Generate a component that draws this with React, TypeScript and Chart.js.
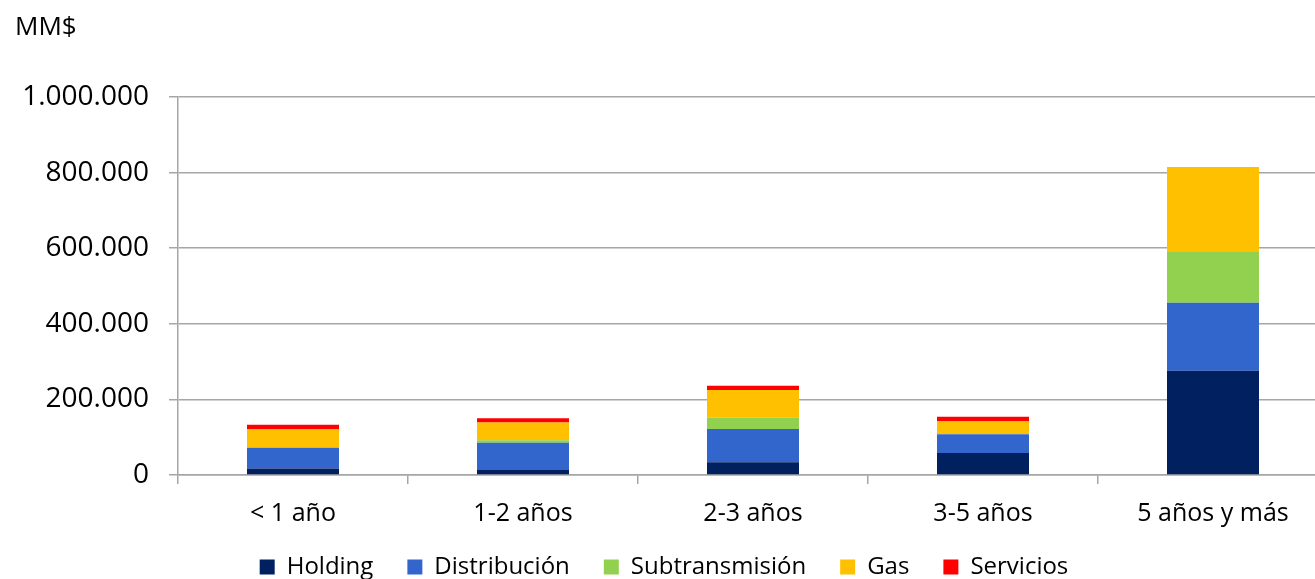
import React, { useEffect, useRef } from "react";
import { Chart, registerables } from "chart.js";

Chart.register(...registerables);

const categories = ["< 1 año", "1-2 años", "2-3 años", "3-5 años", "5 años y más"];
const holding = [17000, 13000, 34000, 58000, 276000];
const distribucion = [55000, 72000, 88000, 50000, 180000];
const subtransmision = [0, 7000, 30000, 0, 134000];
const gas = [50000, 47000, 73000, 35000, 225000];
const servicios = [11000, 11000, 11000, 11000, 0];
const yMax = 1000000;
const yStep = 200000;
const unitLabel = "MM$";

const fmt = (v: number) => String(Math.round(v)).replace(/\B(?=(\d{3})+(?!\d))/g, ".");

export default function App() {
  const ref = useRef<HTMLCanvasElement | null>(null);
  useEffect(() => {
    document.body.style.margin = "0";
    document.body.style.overflow = "hidden";
    const ctx = ref.current!.getContext("2d")!;
    const font = "'Open Sans', sans-serif";
    const gridColor = "#a6a6a6";
    const chart = new Chart(ctx, {
      type: "bar",
      data: {
        labels: categories,
        datasets: [
          { label: "Holding", data: holding, backgroundColor: "#002060" },
          { label: "Distribución", data: distribucion, backgroundColor: "#3366CC" },
          { label: "Subtransmisión", data: subtransmision, backgroundColor: "#92D050" },
          { label: "Gas", data: gas, backgroundColor: "#FFC000" },
          { label: "Servicios", data: servicios, backgroundColor: "#FF0000" },
        ],
      },
      options: {
        animation: false,
        responsive: false,
        maintainAspectRatio: false,
        datasets: { bar: { categoryPercentage: 0.4, barPercentage: 1.0 } },
        layout: { padding: { left: 0, right: 48, top: 97, bottom: 0 } },
        plugins: {
          tooltip: { enabled: false },
          title: { display: false },
          legend: {
            position: "bottom",
            labels: {
              color: "#000",
              font: { family: font, size: 24 },
              boxWidth: 15,
              boxHeight: 15,
              padding: 34,
            },
          },
        },
        scales: {
          x: {
            stacked: true,
            grid: {
              display: true,
              drawOnChartArea: false,
              drawTicks: true,
              tickLength: 9,
              color: gridColor,
              lineWidth: 1.5,
              offset: true,
            },
            border: { display: true, color: gridColor, width: 1.5 },
            ticks: { color: "#000", font: { family: font, size: 25 }, padding: 15 },
            afterFit: (s: any) => {
              s.height = 46;
              // let the tick labels' descenders run past the scale box
              s._computeLabelArea = () => undefined;
            },
          },
          y: {
            stacked: true,
            min: 0,
            max: yMax,
            grid: { color: gridColor, lineWidth: 1.5, tickLength: 9 },
            border: { display: true, color: gridColor, width: 1.5 },
            ticks: {
              stepSize: yStep,
              color: "#000",
              font: { family: font, size: 28 },
              padding: 20,
              callback: (v: any) => fmt(Number(v)),
            },
            afterFit: (s: any) => {
              s.width = 178;
            },
          },
        },
      },
    });
    return () => chart.destroy();
  }, []);
  return (
    <div style={{ position: "absolute", left: 0, top: 0, width: 1376, height: 589 }}>
      <div
        style={{
          position: "absolute",
          left: 15,
          top: 8,
          fontFamily: "'Open Sans', sans-serif",
          fontSize: 26,
          color: "#000",
          lineHeight: "34px",
        }}
      >
        {unitLabel}
      </div>
      <canvas ref={ref} width={1376} height={589} style={{ width: 1376, height: 589 }} />
    </div>
  );
}
